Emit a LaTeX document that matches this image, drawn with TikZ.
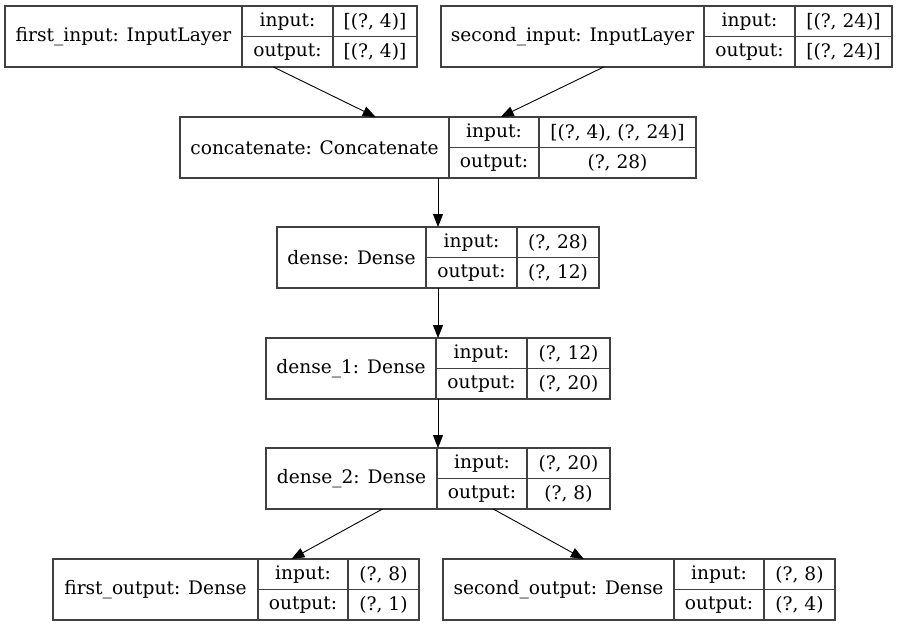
\documentclass[tikz,border=0pt]{standalone}
\usepackage{fontspec}
\setmainfont{DejaVu Serif}
\usetikzlibrary{arrows.meta}
\tikzset{
  box/.style={draw=black!75, line width=1.1pt, inner sep=0pt, outer sep=0pt, anchor=north west},
  cell/.style={inner sep=0pt, font=\fontsize{18.6}{21}\selectfont, anchor=center},
  rule/.style={draw=black!75, line width=1.1pt},
  flow/.style={draw=black, line width=0.9pt, -{Triangle[length=13pt,width=10pt]}}
}
% #1 name, #2 x0, #3 x1, #4 x2, #5 x3, #6 ytop, #7 label, #8 in, #9 out
\newcommand\keraslayer[9]{%
  \node[box, minimum width={(#5-#2)*1pt}, minimum height=61pt] (#1) at (#2,#6) {};
  \draw[rule] (#3,#6) -- (#3,#6+61);
  \draw[rule] (#4,#6) -- (#4,#6+61);
  \draw[rule] (#3,#6+30.5) -- (#5,#6+30.5);
  \node[cell] (#1-label) at ({(#2+#3)/2},#6+30.5) {#7};
  \node[cell] (#1-inkey) at ({(#3+#4)/2},#6+15.5) {input:};
  \node[cell] (#1-outkey) at ({(#3+#4)/2},#6+46) {output:};
  \node[cell] (#1-in) at ({(#4+#5)/2},#6+15.5) {#8};
  \node[cell] (#1-out) at ({(#4+#5)/2},#6+46) {#9};
}
\begin{document}
\begin{tikzpicture}[x=1pt,y=-1pt]
\useasboundingbox (0,0) rectangle (897,627);
\keraslayer{first}{5}{242}{333}{417}{6}{first\_input: InputLayer}{[(?, 4)]}{[(?, 4)]}
\keraslayer{second}{441}{704}{795}{892}{6}{second\_input: InputLayer}{[(?, 24)]}{[(?, 24)]}
\keraslayer{concat}{180}{449}{539}{696}{117}{concatenate: Concatenate}{[(?, 4), (?, 24)]}{(?, 28)}
\keraslayer{dense}{277}{426}{517}{599}{227}{dense: Dense}{(?, 28)}{(?, 12)}
\keraslayer{dense1}{266}{436}{527}{610}{338}{dense\_1: Dense}{(?, 12)}{(?, 20)}
\keraslayer{dense2}{266}{437}{527}{610}{448}{dense\_2: Dense}{(?, 20)}{(?, 8)}
\keraslayer{out1}{53}{258}{348}{419}{559}{first\_output: Dense}{(?, 8)}{(?, 1)}
\keraslayer{out2}{443}{674}{764}{835}{559}{second\_output: Dense}{(?, 8)}{(?, 4)}
\draw[flow] (first) -- (concat);
\draw[flow] (second) -- (concat);
\draw[flow] (concat) -- (dense);
\draw[flow] (dense) -- (dense1);
\draw[flow] (dense1) -- (dense2);
\draw[flow] (dense2) -- (out1);
\draw[flow] (dense2) -- (out2);
\end{tikzpicture}
\end{document}
